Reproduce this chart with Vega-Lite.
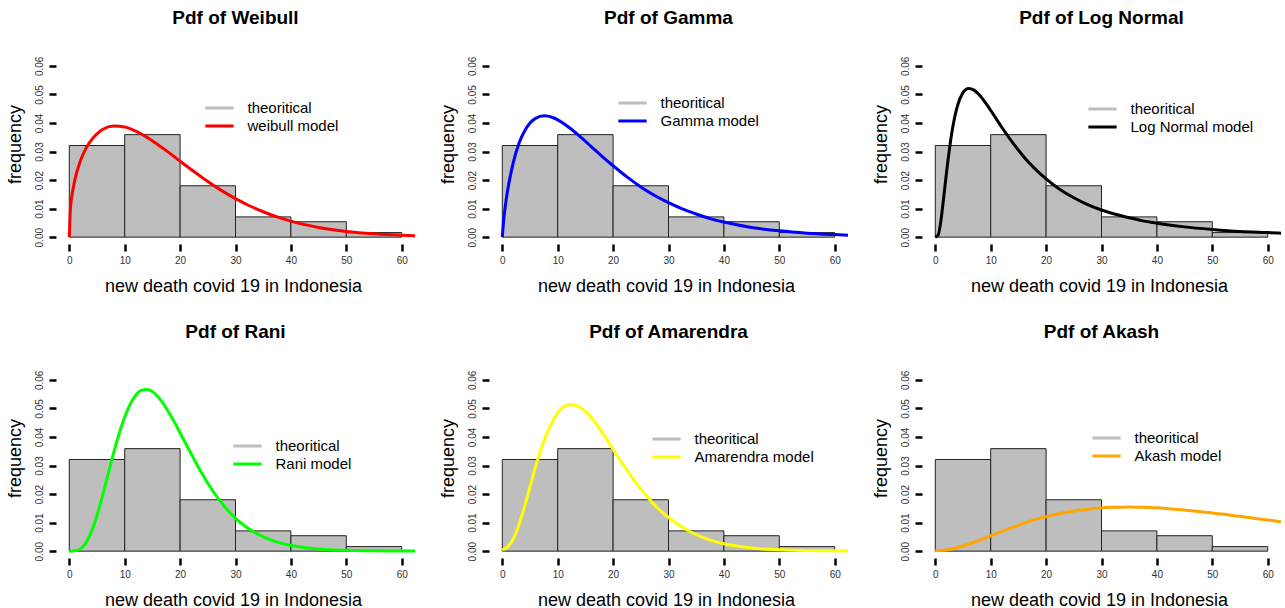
{
  "$schema": "https://vega.github.io/schema/vega-lite/v6.json",
  "background": "white",
  "padding": {"left": 6, "top": 9, "right": 0, "bottom": 0},
  "bounds": "flush",
  "columns": 3,
  "spacing": {"row": 129, "column": 74},
  "resolve": {"scale": {"color": "independent"}, "legend": {"color": "independent"}},
  "datasets": {
    "hist": [
      {"x": 0, "hi": 10, "density": 0.0321},
      {"x": 10, "hi": 20, "density": 0.0359},
      {"x": 20, "hi": 30, "density": 0.018},
      {"x": 30, "hi": 40, "density": 0.0071},
      {"x": 40, "hi": 50, "density": 0.0054},
      {"x": 50, "hi": 60, "density": 0.0016}
    ],
    "curves": [
      {"model": "weibull model", "x": 0, "density": 0},
      {"model": "weibull model", "x": 0.2, "density": 0.0098},
      {"model": "weibull model", "x": 0.5, "density": 0.0148},
      {"model": "weibull model", "x": 1, "density": 0.02},
      {"model": "weibull model", "x": 2, "density": 0.0267},
      {"model": "weibull model", "x": 3, "density": 0.0311},
      {"model": "weibull model", "x": 4, "density": 0.0341},
      {"model": "weibull model", "x": 5, "density": 0.0362},
      {"model": "weibull model", "x": 6, "density": 0.0377},
      {"model": "weibull model", "x": 8, "density": 0.0389},
      {"model": "weibull model", "x": 10, "density": 0.0386},
      {"model": "weibull model", "x": 12, "density": 0.0371},
      {"model": "weibull model", "x": 14, "density": 0.035},
      {"model": "weibull model", "x": 16, "density": 0.0324},
      {"model": "weibull model", "x": 18, "density": 0.0296},
      {"model": "weibull model", "x": 20, "density": 0.0266},
      {"model": "weibull model", "x": 22.5, "density": 0.023},
      {"model": "weibull model", "x": 25, "density": 0.0195},
      {"model": "weibull model", "x": 27.5, "density": 0.0163},
      {"model": "weibull model", "x": 30, "density": 0.0135},
      {"model": "weibull model", "x": 32.5, "density": 0.011},
      {"model": "weibull model", "x": 35, "density": 0.0089},
      {"model": "weibull model", "x": 37.5, "density": 0.0071},
      {"model": "weibull model", "x": 40, "density": 0.0056},
      {"model": "weibull model", "x": 45, "density": 0.0034},
      {"model": "weibull model", "x": 50, "density": 0.002},
      {"model": "weibull model", "x": 55, "density": 0.00115},
      {"model": "weibull model", "x": 60, "density": 0.00064},
      {"model": "weibull model", "x": 62.4, "density": 0.00048},

      {"model": "Gamma model", "x": 0, "density": 0},
      {"model": "Gamma model", "x": 0.25, "density": 0.006},
      {"model": "Gamma model", "x": 0.5, "density": 0.0102},
      {"model": "Gamma model", "x": 1, "density": 0.0168},
      {"model": "Gamma model", "x": 2, "density": 0.0263},
      {"model": "Gamma model", "x": 3, "density": 0.0328},
      {"model": "Gamma model", "x": 4, "density": 0.0371},
      {"model": "Gamma model", "x": 5, "density": 0.04},
      {"model": "Gamma model", "x": 6, "density": 0.0416},
      {"model": "Gamma model", "x": 7.6, "density": 0.0425},
      {"model": "Gamma model", "x": 9, "density": 0.042},
      {"model": "Gamma model", "x": 10, "density": 0.0411},
      {"model": "Gamma model", "x": 12, "density": 0.0385},
      {"model": "Gamma model", "x": 14, "density": 0.0353},
      {"model": "Gamma model", "x": 16, "density": 0.0318},
      {"model": "Gamma model", "x": 18, "density": 0.0283},
      {"model": "Gamma model", "x": 20, "density": 0.025},
      {"model": "Gamma model", "x": 22.5, "density": 0.0211},
      {"model": "Gamma model", "x": 25, "density": 0.0176},
      {"model": "Gamma model", "x": 27.5, "density": 0.0146},
      {"model": "Gamma model", "x": 30, "density": 0.0121},
      {"model": "Gamma model", "x": 32.5, "density": 0.0099},
      {"model": "Gamma model", "x": 35, "density": 0.0081},
      {"model": "Gamma model", "x": 37.5, "density": 0.0065},
      {"model": "Gamma model", "x": 40, "density": 0.0053},
      {"model": "Gamma model", "x": 45, "density": 0.0034},
      {"model": "Gamma model", "x": 50, "density": 0.0022},
      {"model": "Gamma model", "x": 55, "density": 0.0014},
      {"model": "Gamma model", "x": 60, "density": 0.0009},
      {"model": "Gamma model", "x": 62.4, "density": 0.0007},

      {"model": "Log Normal model", "x": 0, "density": 0},
      {"model": "Log Normal model", "x": 0.5, "density": 0.0007},
      {"model": "Log Normal model", "x": 1, "density": 0.0056},
      {"model": "Log Normal model", "x": 1.5, "density": 0.0136},
      {"model": "Log Normal model", "x": 2, "density": 0.0222},
      {"model": "Log Normal model", "x": 3, "density": 0.0368},
      {"model": "Log Normal model", "x": 4, "density": 0.046},
      {"model": "Log Normal model", "x": 5, "density": 0.0506},
      {"model": "Log Normal model", "x": 6, "density": 0.0521},
      {"model": "Log Normal model", "x": 7, "density": 0.0515},
      {"model": "Log Normal model", "x": 8, "density": 0.0497},
      {"model": "Log Normal model", "x": 10, "density": 0.0444},
      {"model": "Log Normal model", "x": 12, "density": 0.0385},
      {"model": "Log Normal model", "x": 14, "density": 0.033},
      {"model": "Log Normal model", "x": 16, "density": 0.0281},
      {"model": "Log Normal model", "x": 18, "density": 0.0239},
      {"model": "Log Normal model", "x": 20, "density": 0.0204},
      {"model": "Log Normal model", "x": 22.5, "density": 0.0167},
      {"model": "Log Normal model", "x": 25, "density": 0.0138},
      {"model": "Log Normal model", "x": 27.5, "density": 0.0114},
      {"model": "Log Normal model", "x": 30, "density": 0.0095},
      {"model": "Log Normal model", "x": 32.5, "density": 0.008},
      {"model": "Log Normal model", "x": 35, "density": 0.0068},
      {"model": "Log Normal model", "x": 37.5, "density": 0.0057},
      {"model": "Log Normal model", "x": 40, "density": 0.0049},
      {"model": "Log Normal model", "x": 45, "density": 0.0036},
      {"model": "Log Normal model", "x": 50, "density": 0.0027},
      {"model": "Log Normal model", "x": 55, "density": 0.002},
      {"model": "Log Normal model", "x": 60, "density": 0.0016},
      {"model": "Log Normal model", "x": 62.4, "density": 0.0014},

      {"model": "Rani model", "x": 0, "density": 0},
      {"model": "Rani model", "x": 1, "density": 0.0001},
      {"model": "Rani model", "x": 2, "density": 0.0008},
      {"model": "Rani model", "x": 3, "density": 0.0029},
      {"model": "Rani model", "x": 4, "density": 0.0069},
      {"model": "Rani model", "x": 5, "density": 0.0125},
      {"model": "Rani model", "x": 6, "density": 0.0194},
      {"model": "Rani model", "x": 7, "density": 0.0269},
      {"model": "Rani model", "x": 8, "density": 0.0344},
      {"model": "Rani model", "x": 9, "density": 0.0412},
      {"model": "Rani model", "x": 10, "density": 0.047},
      {"model": "Rani model", "x": 11, "density": 0.0515},
      {"model": "Rani model", "x": 12, "density": 0.0546},
      {"model": "Rani model", "x": 13, "density": 0.0563},
      {"model": "Rani model", "x": 14, "density": 0.0566},
      {"model": "Rani model", "x": 15, "density": 0.0559},
      {"model": "Rani model", "x": 16, "density": 0.0541},
      {"model": "Rani model", "x": 17, "density": 0.0516},
      {"model": "Rani model", "x": 18, "density": 0.0485},
      {"model": "Rani model", "x": 19, "density": 0.0451},
      {"model": "Rani model", "x": 20, "density": 0.0414},
      {"model": "Rani model", "x": 22, "density": 0.0341},
      {"model": "Rani model", "x": 24, "density": 0.027},
      {"model": "Rani model", "x": 26, "density": 0.0208},
      {"model": "Rani model", "x": 28, "density": 0.0157},
      {"model": "Rani model", "x": 30, "density": 0.0115},
      {"model": "Rani model", "x": 32, "density": 0.0084},
      {"model": "Rani model", "x": 34, "density": 0.006},
      {"model": "Rani model", "x": 36, "density": 0.0042},
      {"model": "Rani model", "x": 38, "density": 0.0029},
      {"model": "Rani model", "x": 40, "density": 0.002},
      {"model": "Rani model", "x": 43, "density": 0.0011},
      {"model": "Rani model", "x": 46, "density": 0.0006},
      {"model": "Rani model", "x": 50, "density": 0.0003},
      {"model": "Rani model", "x": 55, "density": 0.0001},
      {"model": "Rani model", "x": 60, "density": 0.00003},
      {"model": "Rani model", "x": 62.4, "density": 0.00002},

      {"model": "Amarendra model", "x": 0, "density": 0.0005},
      {"model": "Amarendra model", "x": 1, "density": 0.0015},
      {"model": "Amarendra model", "x": 2, "density": 0.0044},
      {"model": "Amarendra model", "x": 3, "density": 0.0092},
      {"model": "Amarendra model", "x": 4, "density": 0.0155},
      {"model": "Amarendra model", "x": 5, "density": 0.0225},
      {"model": "Amarendra model", "x": 6, "density": 0.0295},
      {"model": "Amarendra model", "x": 7, "density": 0.0358},
      {"model": "Amarendra model", "x": 8, "density": 0.041},
      {"model": "Amarendra model", "x": 9, "density": 0.0452},
      {"model": "Amarendra model", "x": 10, "density": 0.0485},
      {"model": "Amarendra model", "x": 11, "density": 0.0505},
      {"model": "Amarendra model", "x": 12, "density": 0.0513},
      {"model": "Amarendra model", "x": 13, "density": 0.0512},
      {"model": "Amarendra model", "x": 14, "density": 0.0504},
      {"model": "Amarendra model", "x": 15, "density": 0.049},
      {"model": "Amarendra model", "x": 16, "density": 0.047},
      {"model": "Amarendra model", "x": 17, "density": 0.0445},
      {"model": "Amarendra model", "x": 18, "density": 0.0417},
      {"model": "Amarendra model", "x": 19, "density": 0.0387},
      {"model": "Amarendra model", "x": 20, "density": 0.0357},
      {"model": "Amarendra model", "x": 22, "density": 0.0298},
      {"model": "Amarendra model", "x": 24, "density": 0.0243},
      {"model": "Amarendra model", "x": 26, "density": 0.0194},
      {"model": "Amarendra model", "x": 28, "density": 0.0152},
      {"model": "Amarendra model", "x": 30, "density": 0.0118},
      {"model": "Amarendra model", "x": 32, "density": 0.009},
      {"model": "Amarendra model", "x": 34, "density": 0.0067},
      {"model": "Amarendra model", "x": 36, "density": 0.005},
      {"model": "Amarendra model", "x": 38, "density": 0.0036},
      {"model": "Amarendra model", "x": 40, "density": 0.0026},
      {"model": "Amarendra model", "x": 43, "density": 0.0016},
      {"model": "Amarendra model", "x": 46, "density": 0.0009},
      {"model": "Amarendra model", "x": 50, "density": 0.0005},
      {"model": "Amarendra model", "x": 55, "density": 0.0002},
      {"model": "Amarendra model", "x": 60, "density": 0.0001},
      {"model": "Amarendra model", "x": 62.4, "density": 0.00005},

      {"model": "Akash model", "x": 0, "density": 0.0001},
      {"model": "Akash model", "x": 2.5, "density": 0.0006},
      {"model": "Akash model", "x": 5, "density": 0.0018},
      {"model": "Akash model", "x": 7.5, "density": 0.0035},
      {"model": "Akash model", "x": 10, "density": 0.0054},
      {"model": "Akash model", "x": 12.5, "density": 0.0073},
      {"model": "Akash model", "x": 15, "density": 0.0091},
      {"model": "Akash model", "x": 17.5, "density": 0.0108},
      {"model": "Akash model", "x": 20, "density": 0.0121},
      {"model": "Akash model", "x": 22.5, "density": 0.0132},
      {"model": "Akash model", "x": 25, "density": 0.0141},
      {"model": "Akash model", "x": 27.5, "density": 0.0147},
      {"model": "Akash model", "x": 30, "density": 0.0152},
      {"model": "Akash model", "x": 32.5, "density": 0.0154},
      {"model": "Akash model", "x": 35, "density": 0.0155},
      {"model": "Akash model", "x": 37.5, "density": 0.0154},
      {"model": "Akash model", "x": 40, "density": 0.0152},
      {"model": "Akash model", "x": 42.5, "density": 0.0148},
      {"model": "Akash model", "x": 45, "density": 0.0144},
      {"model": "Akash model", "x": 47.5, "density": 0.0139},
      {"model": "Akash model", "x": 50, "density": 0.0134},
      {"model": "Akash model", "x": 52.5, "density": 0.0128},
      {"model": "Akash model", "x": 55, "density": 0.0122},
      {"model": "Akash model", "x": 57.5, "density": 0.0115},
      {"model": "Akash model", "x": 60, "density": 0.0109},
      {"model": "Akash model", "x": 62.4, "density": 0.0103}
    ]
  },
  "concat": [
    {
      "width": 359, "height": 185,
      "title": "Pdf of Weibull",
      "layer": [
        {"data": {"name": "hist"}, "mark": {"type": "rect", "fill": "#bebebe", "stroke": "#222222", "strokeWidth": 1},
         "encoding": {
           "x": {"field": "x", "type": "quantitative", "scale": {"domain": [-2.4, 62.4], "nice": false, "zero": false}, "axis": {"title": "new death covid 19 in Indonesia", "values": [0, 10, 20, 30, 40, 50, 60], "labelOverlap": false}},
           "x2": {"field": "hi"},
           "y": {"field": "density", "type": "quantitative", "scale": {"domain": [-0.0024, 0.0624], "nice": false, "zero": false}, "axis": {"title": "frequency", "values": [0, 0.01, 0.02, 0.03, 0.04, 0.05, 0.06], "format": ".2f", "labelOverlap": false}},
           "y2": {"datum": 0}}},
        {"data": {"name": "curves"}, "transform": [{"filter": "datum.model == 'weibull model'"}], "mark": {"type": "line", "strokeWidth": 3, "interpolate": "monotone"},
         "encoding": {
           "x": {"field": "x", "type": "quantitative", "axis": {"title": "new death covid 19 in Indonesia", "values": [0, 10, 20, 30, 40, 50, 60], "labelOverlap": false}},
           "y": {"field": "density", "type": "quantitative", "axis": {"title": "frequency", "values": [0, 0.01, 0.02, 0.03, 0.04, 0.05, 0.06], "format": ".2f", "labelOverlap": false}},
           "color": {"field": "model", "type": "nominal", "scale": {"domain": ["theoritical", "weibull model"], "range": ["#bebebe", "#ff0000"]}, "legend": {"title": null, "legendX": 147.5, "legendY": 40, "labelExpr": "datum.label == 'theoritical' ? datum.label : '\\u00a0' + datum.label"}}}},
        {"mark": {"type": "rule", "strokeWidth": 2.5, "color": "black"}, "encoding": {"x": {"datum": 0, "axis": {"title": "new death covid 19 in Indonesia", "values": [0, 10, 20, 30, 40, 50, 60], "labelOverlap": false}}, "x2": {"datum": 60}, "y": {"datum": -0.0024, "axis": {"title": "frequency", "values": [0, 0.01, 0.02, 0.03, 0.04, 0.05, 0.06], "format": ".2f", "labelOverlap": false}}}},
        {"mark": {"type": "rule", "strokeWidth": 2.5, "color": "black"}, "encoding": {"x": {"datum": -2.4, "axis": {"title": "new death covid 19 in Indonesia", "values": [0, 10, 20, 30, 40, 50, 60], "labelOverlap": false}}, "y": {"datum": 0, "axis": {"title": "frequency", "values": [0, 0.01, 0.02, 0.03, 0.04, 0.05, 0.06], "format": ".2f", "labelOverlap": false}}, "y2": {"datum": 0.06}}}
      ]
    },
    {
      "width": 359, "height": 185,
      "title": "Pdf of Gamma",
      "layer": [
        {"data": {"name": "hist"}, "mark": {"type": "rect", "fill": "#bebebe", "stroke": "#222222", "strokeWidth": 1},
         "encoding": {
           "x": {"field": "x", "type": "quantitative", "scale": {"domain": [-2.4, 62.4], "nice": false, "zero": false}, "axis": {"title": "new death covid 19 in Indonesia", "values": [0, 10, 20, 30, 40, 50, 60], "labelOverlap": false}},
           "x2": {"field": "hi"},
           "y": {"field": "density", "type": "quantitative", "scale": {"domain": [-0.0024, 0.0624], "nice": false, "zero": false}, "axis": {"title": "frequency", "values": [0, 0.01, 0.02, 0.03, 0.04, 0.05, 0.06], "format": ".2f", "labelOverlap": false}},
           "y2": {"datum": 0}}},
        {"data": {"name": "curves"}, "transform": [{"filter": "datum.model == 'Gamma model'"}], "mark": {"type": "line", "strokeWidth": 3, "interpolate": "monotone"},
         "encoding": {
           "x": {"field": "x", "type": "quantitative", "axis": {"title": "new death covid 19 in Indonesia", "values": [0, 10, 20, 30, 40, 50, 60], "labelOverlap": false}},
           "y": {"field": "density", "type": "quantitative", "axis": {"title": "frequency", "values": [0, 0.01, 0.02, 0.03, 0.04, 0.05, 0.06], "format": ".2f", "labelOverlap": false}},
           "color": {"field": "model", "type": "nominal", "scale": {"domain": ["theoritical", "Gamma model"], "range": ["#bebebe", "#0000ff"]}, "legend": {"title": null, "legendX": 127.5, "legendY": 35, "labelExpr": "datum.label == 'theoritical' ? datum.label : '\\u00a0' + datum.label"}}}},
        {"mark": {"type": "rule", "strokeWidth": 2.5, "color": "black"}, "encoding": {"x": {"datum": 0, "axis": {"title": "new death covid 19 in Indonesia", "values": [0, 10, 20, 30, 40, 50, 60], "labelOverlap": false}}, "x2": {"datum": 60}, "y": {"datum": -0.0024, "axis": {"title": "frequency", "values": [0, 0.01, 0.02, 0.03, 0.04, 0.05, 0.06], "format": ".2f", "labelOverlap": false}}}},
        {"mark": {"type": "rule", "strokeWidth": 2.5, "color": "black"}, "encoding": {"x": {"datum": -2.4, "axis": {"title": "new death covid 19 in Indonesia", "values": [0, 10, 20, 30, 40, 50, 60], "labelOverlap": false}}, "y": {"datum": 0, "axis": {"title": "frequency", "values": [0, 0.01, 0.02, 0.03, 0.04, 0.05, 0.06], "format": ".2f", "labelOverlap": false}}, "y2": {"datum": 0.06}}}
      ]
    },
    {
      "width": 359, "height": 185,
      "title": "Pdf of Log Normal",
      "layer": [
        {"data": {"name": "hist"}, "mark": {"type": "rect", "fill": "#bebebe", "stroke": "#222222", "strokeWidth": 1},
         "encoding": {
           "x": {"field": "x", "type": "quantitative", "scale": {"domain": [-2.4, 62.4], "nice": false, "zero": false}, "axis": {"title": "new death covid 19 in Indonesia", "values": [0, 10, 20, 30, 40, 50, 60], "labelOverlap": false}},
           "x2": {"field": "hi"},
           "y": {"field": "density", "type": "quantitative", "scale": {"domain": [-0.0024, 0.0624], "nice": false, "zero": false}, "axis": {"title": "frequency", "values": [0, 0.01, 0.02, 0.03, 0.04, 0.05, 0.06], "format": ".2f", "labelOverlap": false}},
           "y2": {"datum": 0}}},
        {"data": {"name": "curves"}, "transform": [{"filter": "datum.model == 'Log Normal model'"}], "mark": {"type": "line", "strokeWidth": 3, "interpolate": "monotone"},
         "encoding": {
           "x": {"field": "x", "type": "quantitative", "axis": {"title": "new death covid 19 in Indonesia", "values": [0, 10, 20, 30, 40, 50, 60], "labelOverlap": false}},
           "y": {"field": "density", "type": "quantitative", "axis": {"title": "frequency", "values": [0, 0.01, 0.02, 0.03, 0.04, 0.05, 0.06], "format": ".2f", "labelOverlap": false}},
           "color": {"field": "model", "type": "nominal", "scale": {"domain": ["theoritical", "Log Normal model"], "range": ["#bebebe", "#000000"]}, "legend": {"title": null, "legendX": 164.5, "legendY": 41, "labelExpr": "datum.label == 'theoritical' ? datum.label : '\\u00a0' + datum.label"}}}},
        {"mark": {"type": "rule", "strokeWidth": 2.5, "color": "black"}, "encoding": {"x": {"datum": 0, "axis": {"title": "new death covid 19 in Indonesia", "values": [0, 10, 20, 30, 40, 50, 60], "labelOverlap": false}}, "x2": {"datum": 60}, "y": {"datum": -0.0024, "axis": {"title": "frequency", "values": [0, 0.01, 0.02, 0.03, 0.04, 0.05, 0.06], "format": ".2f", "labelOverlap": false}}}},
        {"mark": {"type": "rule", "strokeWidth": 2.5, "color": "black"}, "encoding": {"x": {"datum": -2.4, "axis": {"title": "new death covid 19 in Indonesia", "values": [0, 10, 20, 30, 40, 50, 60], "labelOverlap": false}}, "y": {"datum": 0, "axis": {"title": "frequency", "values": [0, 0.01, 0.02, 0.03, 0.04, 0.05, 0.06], "format": ".2f", "labelOverlap": false}}, "y2": {"datum": 0.06}}}
      ]
    },
    {
      "width": 359, "height": 185,
      "title": "Pdf of Rani",
      "layer": [
        {"data": {"name": "hist"}, "mark": {"type": "rect", "fill": "#bebebe", "stroke": "#222222", "strokeWidth": 1},
         "encoding": {
           "x": {"field": "x", "type": "quantitative", "scale": {"domain": [-2.4, 62.4], "nice": false, "zero": false}, "axis": {"title": "new death covid 19 in Indonesia", "values": [0, 10, 20, 30, 40, 50, 60], "labelOverlap": false}},
           "x2": {"field": "hi"},
           "y": {"field": "density", "type": "quantitative", "scale": {"domain": [-0.0024, 0.0624], "nice": false, "zero": false}, "axis": {"title": "frequency", "values": [0, 0.01, 0.02, 0.03, 0.04, 0.05, 0.06], "format": ".2f", "labelOverlap": false}},
           "y2": {"datum": 0}}},
        {"data": {"name": "curves"}, "transform": [{"filter": "datum.model == 'Rani model'"}], "mark": {"type": "line", "strokeWidth": 3, "interpolate": "monotone"},
         "encoding": {
           "x": {"field": "x", "type": "quantitative", "axis": {"title": "new death covid 19 in Indonesia", "values": [0, 10, 20, 30, 40, 50, 60], "labelOverlap": false}},
           "y": {"field": "density", "type": "quantitative", "axis": {"title": "frequency", "values": [0, 0.01, 0.02, 0.03, 0.04, 0.05, 0.06], "format": ".2f", "labelOverlap": false}},
           "color": {"field": "model", "type": "nominal", "scale": {"domain": ["theoritical", "Rani model"], "range": ["#bebebe", "#00ff00"]}, "legend": {"title": null, "legendX": 175.5, "legendY": 64, "labelExpr": "datum.label == 'theoritical' ? datum.label : '\\u00a0' + datum.label"}}}},
        {"mark": {"type": "rule", "strokeWidth": 2.5, "color": "black"}, "encoding": {"x": {"datum": 0, "axis": {"title": "new death covid 19 in Indonesia", "values": [0, 10, 20, 30, 40, 50, 60], "labelOverlap": false}}, "x2": {"datum": 60}, "y": {"datum": -0.0024, "axis": {"title": "frequency", "values": [0, 0.01, 0.02, 0.03, 0.04, 0.05, 0.06], "format": ".2f", "labelOverlap": false}}}},
        {"mark": {"type": "rule", "strokeWidth": 2.5, "color": "black"}, "encoding": {"x": {"datum": -2.4, "axis": {"title": "new death covid 19 in Indonesia", "values": [0, 10, 20, 30, 40, 50, 60], "labelOverlap": false}}, "y": {"datum": 0, "axis": {"title": "frequency", "values": [0, 0.01, 0.02, 0.03, 0.04, 0.05, 0.06], "format": ".2f", "labelOverlap": false}}, "y2": {"datum": 0.06}}}
      ]
    },
    {
      "width": 359, "height": 185,
      "title": "Pdf of Amarendra",
      "layer": [
        {"data": {"name": "hist"}, "mark": {"type": "rect", "fill": "#bebebe", "stroke": "#222222", "strokeWidth": 1},
         "encoding": {
           "x": {"field": "x", "type": "quantitative", "scale": {"domain": [-2.4, 62.4], "nice": false, "zero": false}, "axis": {"title": "new death covid 19 in Indonesia", "values": [0, 10, 20, 30, 40, 50, 60], "labelOverlap": false}},
           "x2": {"field": "hi"},
           "y": {"field": "density", "type": "quantitative", "scale": {"domain": [-0.0024, 0.0624], "nice": false, "zero": false}, "axis": {"title": "frequency", "values": [0, 0.01, 0.02, 0.03, 0.04, 0.05, 0.06], "format": ".2f", "labelOverlap": false}},
           "y2": {"datum": 0}}},
        {"data": {"name": "curves"}, "transform": [{"filter": "datum.model == 'Amarendra model'"}], "mark": {"type": "line", "strokeWidth": 3, "interpolate": "monotone"},
         "encoding": {
           "x": {"field": "x", "type": "quantitative", "axis": {"title": "new death covid 19 in Indonesia", "values": [0, 10, 20, 30, 40, 50, 60], "labelOverlap": false}},
           "y": {"field": "density", "type": "quantitative", "axis": {"title": "frequency", "values": [0, 0.01, 0.02, 0.03, 0.04, 0.05, 0.06], "format": ".2f", "labelOverlap": false}},
           "color": {"field": "model", "type": "nominal", "scale": {"domain": ["theoritical", "Amarendra model"], "range": ["#bebebe", "#ffff00"]}, "legend": {"title": null, "legendX": 161.5, "legendY": 57, "labelExpr": "datum.label == 'theoritical' ? datum.label : '\\u00a0' + datum.label"}}}},
        {"mark": {"type": "rule", "strokeWidth": 2.5, "color": "black"}, "encoding": {"x": {"datum": 0, "axis": {"title": "new death covid 19 in Indonesia", "values": [0, 10, 20, 30, 40, 50, 60], "labelOverlap": false}}, "x2": {"datum": 60}, "y": {"datum": -0.0024, "axis": {"title": "frequency", "values": [0, 0.01, 0.02, 0.03, 0.04, 0.05, 0.06], "format": ".2f", "labelOverlap": false}}}},
        {"mark": {"type": "rule", "strokeWidth": 2.5, "color": "black"}, "encoding": {"x": {"datum": -2.4, "axis": {"title": "new death covid 19 in Indonesia", "values": [0, 10, 20, 30, 40, 50, 60], "labelOverlap": false}}, "y": {"datum": 0, "axis": {"title": "frequency", "values": [0, 0.01, 0.02, 0.03, 0.04, 0.05, 0.06], "format": ".2f", "labelOverlap": false}}, "y2": {"datum": 0.06}}}
      ]
    },
    {
      "width": 359, "height": 185,
      "title": "Pdf of Akash",
      "layer": [
        {"data": {"name": "hist"}, "mark": {"type": "rect", "fill": "#bebebe", "stroke": "#222222", "strokeWidth": 1},
         "encoding": {
           "x": {"field": "x", "type": "quantitative", "scale": {"domain": [-2.4, 62.4], "nice": false, "zero": false}, "axis": {"title": "new death covid 19 in Indonesia", "values": [0, 10, 20, 30, 40, 50, 60], "labelOverlap": false}},
           "x2": {"field": "hi"},
           "y": {"field": "density", "type": "quantitative", "scale": {"domain": [-0.0024, 0.0624], "nice": false, "zero": false}, "axis": {"title": "frequency", "values": [0, 0.01, 0.02, 0.03, 0.04, 0.05, 0.06], "format": ".2f", "labelOverlap": false}},
           "y2": {"datum": 0}}},
        {"data": {"name": "curves"}, "transform": [{"filter": "datum.model == 'Akash model'"}], "mark": {"type": "line", "strokeWidth": 3, "interpolate": "monotone"},
         "encoding": {
           "x": {"field": "x", "type": "quantitative", "axis": {"title": "new death covid 19 in Indonesia", "values": [0, 10, 20, 30, 40, 50, 60], "labelOverlap": false}},
           "y": {"field": "density", "type": "quantitative", "axis": {"title": "frequency", "values": [0, 0.01, 0.02, 0.03, 0.04, 0.05, 0.06], "format": ".2f", "labelOverlap": false}},
           "color": {"field": "model", "type": "nominal", "scale": {"domain": ["theoritical", "Akash model"], "range": ["#bebebe", "#ffa500"]}, "legend": {"title": null, "legendX": 168.5, "legendY": 56, "labelExpr": "datum.label == 'theoritical' ? datum.label : '\\u00a0' + datum.label"}}}},
        {"mark": {"type": "rule", "strokeWidth": 2.5, "color": "black"}, "encoding": {"x": {"datum": 0, "axis": {"title": "new death covid 19 in Indonesia", "values": [0, 10, 20, 30, 40, 50, 60], "labelOverlap": false}}, "x2": {"datum": 60}, "y": {"datum": -0.0024, "axis": {"title": "frequency", "values": [0, 0.01, 0.02, 0.03, 0.04, 0.05, 0.06], "format": ".2f", "labelOverlap": false}}}},
        {"mark": {"type": "rule", "strokeWidth": 2.5, "color": "black"}, "encoding": {"x": {"datum": -2.4, "axis": {"title": "new death covid 19 in Indonesia", "values": [0, 10, 20, 30, 40, 50, 60], "labelOverlap": false}}, "y": {"datum": 0, "axis": {"title": "frequency", "values": [0, 0.01, 0.02, 0.03, 0.04, 0.05, 0.06], "format": ".2f", "labelOverlap": false}}, "y2": {"datum": 0.06}}}
      ]
    }
  ],
  "config": {
    "view": {"stroke": null},
    "font": "Liberation Sans",
    "title": {"font": "Liberation Sans", "fontSize": 19, "fontWeight": "bold", "color": "black", "anchor": "middle", "frame": "group", "baseline": "alphabetic", "offset": 28},
    "axis": {"domain": false, "grid": false, "tickSize": 7, "tickWidth": 2.5, "tickColor": "black", "labelFont": "Liberation Sans", "labelFontSize": 10, "labelColor": "#333333", "labelOverlap": false, "titleFont": "Liberation Sans", "titleFontSize": 18, "titleFontWeight": "normal", "titleColor": "black"},
    "axisX": {"labelBaseline": "middle", "labelPadding": 9.7, "labelFlush": false, "titleX": 177, "titleY": 47.5, "titleBaseline": "alphabetic", "titleAlign": "center"},
    "axisY": {"labelAngle": 270, "labelAlign": "center", "labelBaseline": "middle", "labelPadding": 10, "titleX": -35.4, "titleY": 85, "titleAngle": 270, "titleBaseline": "alphabetic", "titleAlign": "center"},
    "legend": {"orient": "none", "symbolType": "stroke", "symbolSize": 800, "symbolStrokeWidth": 3, "labelFont": "Liberation Sans", "labelFontSize": 15, "labelColor": "black", "clipHeight": 18, "rowPadding": 0, "labelOffset": 12, "padding": 0}
  }
}
